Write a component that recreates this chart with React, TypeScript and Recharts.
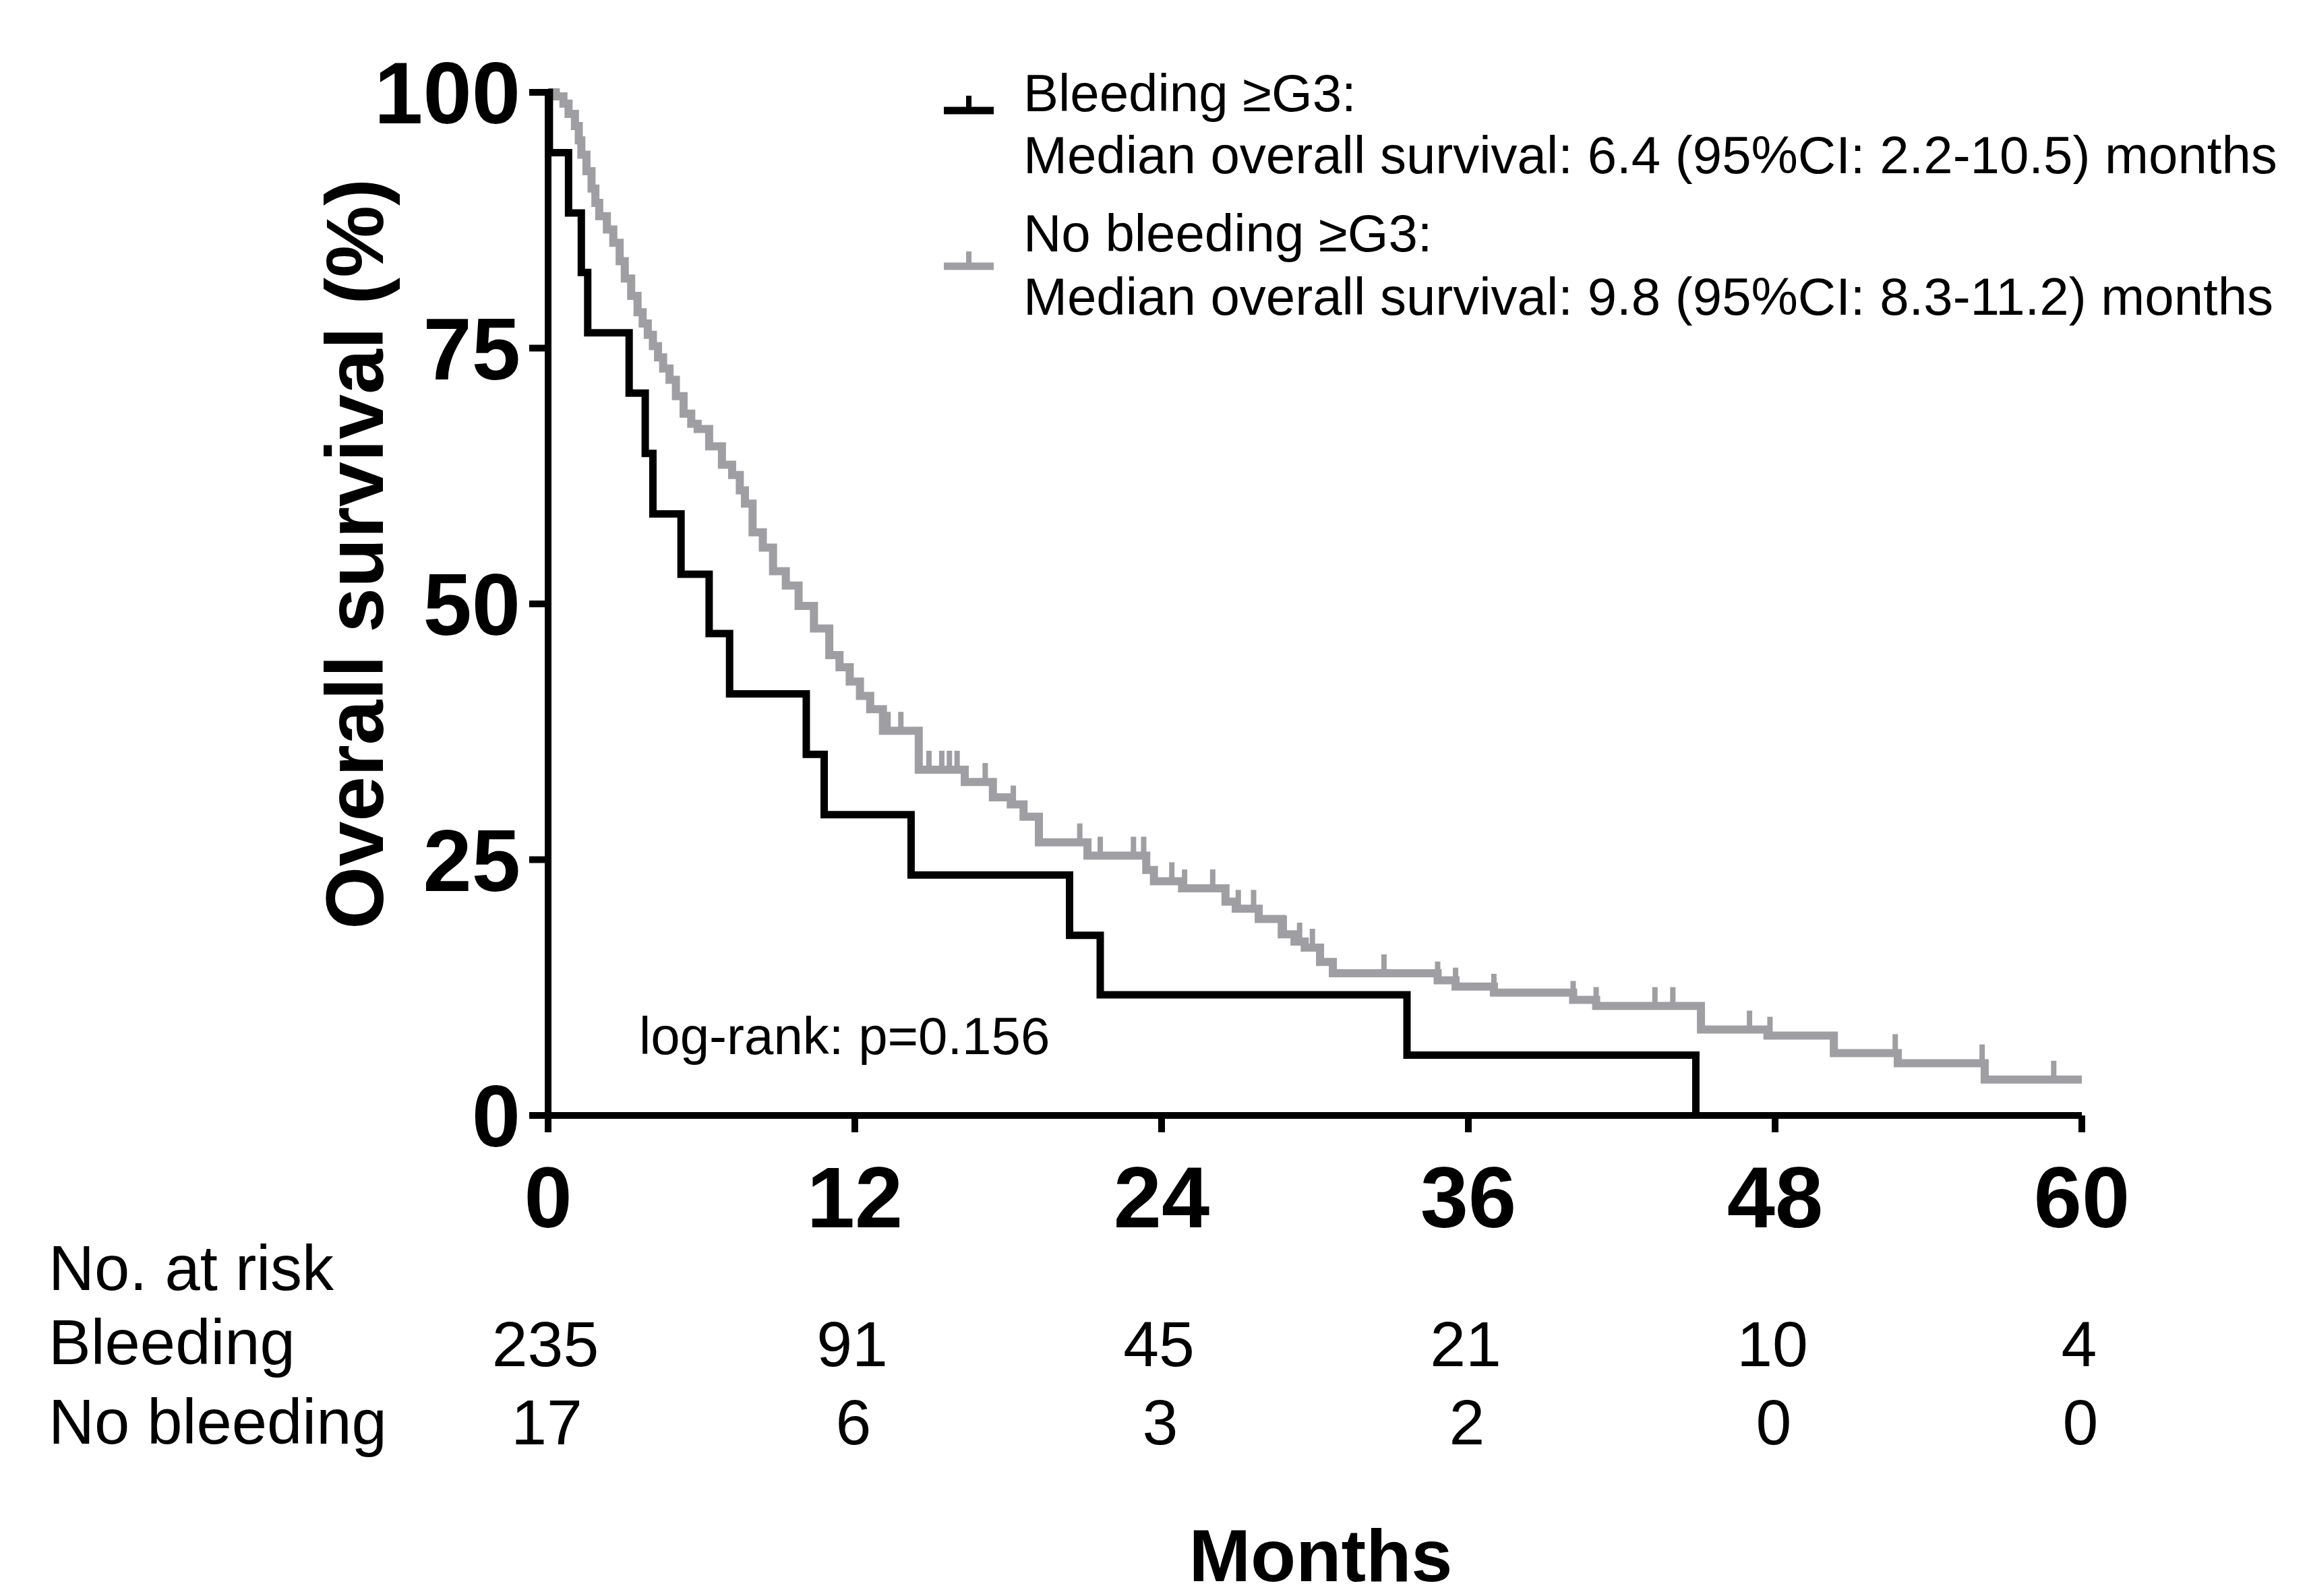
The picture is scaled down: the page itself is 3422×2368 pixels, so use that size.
import React from "react"
import {
    ComposedChart,
    Line,
    Scatter,
    XAxis,
    YAxis,
} from "recharts"

// Kaplan-Meier steps: time (months) -> survival (%)
const bleedTimes = [0, 0.05, 0.8, 1.3, 1.55, 3.17, 3.8, 4.1, 5.2, 6.3, 7.1, 10.1, 10.8, 14.2, 20.4, 21.6, 33.6, 44.9]
const bleedSurv = [100, 94.1, 88.2, 82.4, 76.5, 70.6, 64.7, 58.8, 52.9, 47.1, 41.2, 35.3, 29.4, 23.5, 17.6, 11.8, 5.9, 0]

const noBleedTimes = [
    0, 0.3, 0.6, 0.8, 1.05, 1.2, 1.3, 1.5, 1.7, 1.85,
    2.0, 2.3, 2.55, 2.8, 3.0, 3.25, 3.5, 3.7, 3.9, 4.1,
    4.3, 4.5, 4.75, 5.0, 5.3, 5.6, 5.85, 6.3, 6.8, 7.2,
    7.5, 7.7, 8.0, 8.4, 8.8, 9.3, 9.8, 10.4, 11.0, 11.4,
    11.8, 12.2, 12.6, 13.1, 14.5, 16.3, 17.4, 18.1, 18.6, 19.2,
    21.1, 23.4, 23.7, 24.8, 26.5, 26.9, 27.8, 28.7, 29.2, 29.6,
    30.2, 30.7, 34.8, 35.5, 37.0, 40.1, 41.0, 45.1, 47.7, 50.3,
    52.8, 56.2, 60,
]
const noBleedSurv = [
    100, 99.6, 98.9, 97.9, 96.7, 95.3, 93.9, 92.3, 90.6, 89.2,
    87.9, 86.6, 85.3, 83.5, 81.8, 80.1, 78.5, 77.4, 76.3, 75.2,
    74.1, 73.0, 71.9, 70.3, 68.6, 67.6, 67.1, 65.4, 63.6, 62.6,
    61.1, 59.8, 57.0, 55.5, 53.2, 51.8, 49.8, 47.6, 45.0, 43.8,
    42.4, 41.0, 39.7, 37.6, 33.8, 32.6, 31.1, 30.4, 29.2, 26.7,
    25.4, 24.0, 22.9, 22.2, 20.9, 20.2, 19.2, 17.7, 17.0, 16.4,
    15.0, 13.9, 13.2, 12.6, 12.0, 11.3, 10.7, 8.4, 7.8, 6.1,
    5.1, 3.5, 3.5,
]

// censored observations (months) on the grey curve
const noBleedCensor = [
    13.3, 13.8, 14.9, 15.4, 15.7, 16.0, 17.1, 18.2, 20.8, 21.6,
    22.9, 23.3, 24.4, 24.9, 26.0, 27.0, 27.6, 28.8, 29.4, 29.9,
    32.7, 34.8, 35.5, 37.0, 40.1, 41.0, 43.3, 44.0, 47.0, 47.8,
    50.3, 52.7, 56.1, 58.9,
]

const monthTicks = [0, 12, 24, 36, 48, 60]
const survTicks = [0, 25, 50, 75, 100]
const riskRow1 = [235, 91, 45, 21, 10, 4]
const riskRow2 = [17, 6, 3, 2, 0, 0]

const BLACK = "#000000"
const GREY = "#9f9fa3"
const FONT = "'Liberation Sans', Arial, sans-serif"

const bleedData = bleedTimes.map((t, i) => ({ t, s: bleedSurv[i] }))
const noBleedData = noBleedTimes.map((t, i) => ({ t, s: noBleedSurv[i] }))

function survAt(t: number) {
    let s = noBleedSurv[0]
    for (let i = 0; i < noBleedTimes.length; i++) {
        if (noBleedTimes[i] <= t) s = noBleedSurv[i]
    }
    return s
}

const censorData = noBleedCensor.map((t) => ({ t, s: survAt(t) }))

function CensorMark(props: any) {
    const { cx, cy } = props
    if (cx == null || cy == null) return null
    return (
        <line
            x1={cx}
            x2={cx}
            y1={cy}
            y2={cy - 28}
            stroke={GREY}
            strokeWidth={8}
        />
    )
}

function MonthTick(props: any) {
    const { x, y, payload } = props
    const i = monthTicks.indexOf(payload.value)
    return (
        <g fontFamily={FONT} textAnchor="middle" fill="#000">
            <text x={x} y={y + 139} fontSize={128} fontWeight="bold">
                {payload.value}
            </text>
            <text x={x - 4} y={y + 345} fontSize={95}>
                {riskRow1[i]}
            </text>
            <text x={x - 2} y={y + 461} fontSize={95}>
                {riskRow2[i]}
            </text>
        </g>
    )
}

function Txt({
    left,
    baseline,
    size,
    bold,
    center,
    children,
}: any) {
    return (
        <div
            style={{
                position: "absolute",
                left,
                top: baseline - 0.8465 * size,
                fontSize: size,
                lineHeight: 1,
                fontFamily: FONT,
                fontWeight: bold ? "bold" : "normal",
                whiteSpace: "nowrap",
                transform: center ? "translateX(-50%)" : undefined,
                color: "#000",
            }}
        >
            {children}
        </div>
    )
}

function LegendMark({ top, color }: any) {
    return (
        <svg
            width={80}
            height={40}
            style={{ position: "absolute", left: 1398, top: top - 30 }}
        >
            <line x1={2} x2={76} y1={30} y2={30} stroke={color} strokeWidth={11} />
            <line x1={39} x2={39} y1={8} y2={30} stroke={color} strokeWidth={8} />
        </svg>
    )
}

export default function App() {
    return (
        <div
            style={{
                position: "absolute",
                left: 0,
                top: 0,
                width: 3422,
                height: 2368,
                background: "#fff",
                overflow: "hidden",
            }}
        >
            <ComposedChart
                width={3422}
                height={2368}
                margin={{ top: 137, right: 334, left: 413, bottom: 113 }}
            >
                <XAxis
                    dataKey="t"
                    type="number"
                    domain={[0, 60]}
                    ticks={monthTicks}
                    allowDataOverflow
                    height={600}
                    tickSize={25}
                    axisLine={{ stroke: BLACK, strokeWidth: 10 }}
                    tickLine={{ stroke: BLACK, strokeWidth: 10 }}
                    tick={<MonthTick />}
                    interval={0}
                />
                <YAxis
                    type="number"
                    domain={[0, 100]}
                    ticks={survTicks}
                    width={400}
                    tickSize={28}
                    tickMargin={13}
                    axisLine={{ stroke: BLACK, strokeWidth: 10 }}
                    tickLine={{ stroke: BLACK, strokeWidth: 10 }}
                    tick={{
                        fontSize: 130,
                        fontWeight: "bold",
                        fill: "#000",
                        fontFamily: FONT,
                    }}
                    interval={0}
                />
                <Line
                    data={noBleedData}
                    dataKey="s"
                    type="stepAfter"
                    stroke={GREY}
                    strokeWidth={12}
                    dot={false}
                    activeDot={false}
                    isAnimationActive={false}
                />
                <Scatter
                    data={censorData}
                    dataKey="s"
                    shape={<CensorMark />}
                    isAnimationActive={false}
                />
                <Line
                    data={bleedData}
                    dataKey="s"
                    type="stepAfter"
                    stroke={BLACK}
                    strokeWidth={11}
                    dot={false}
                    activeDot={false}
                    isAnimationActive={false}
                />
            </ComposedChart>

            <div
                style={{
                    position: "absolute",
                    left: 526,
                    top: 822,
                    transform: "translate(-50%, -50%) rotate(-90deg)",
                    fontSize: 120,
                    lineHeight: 1,
                    fontWeight: "bold",
                    fontFamily: FONT,
                    whiteSpace: "nowrap",
                }}
            >
                Overall survival (%)
            </div>

            <LegendMark top={164} color={BLACK} />
            <LegendMark top={395} color={GREY} />
            <Txt left={1518} baseline={165} size={78}>Bleeding ≥G3:</Txt>
            <Txt left={1518} baseline={257} size={78}>
                Median overall survival: 6.4 (95%CI: 2.2-10.5) months
            </Txt>
            <Txt left={1518} baseline={373} size={78}>No bleeding ≥G3:</Txt>
            <Txt left={1518} baseline={467} size={78}>
                Median overall survival: 9.8 (95%CI: 8.3-11.2) months
            </Txt>

            <Txt left={948} baseline={1564} size={78}>log-rank: p=0.156</Txt>

            <Txt left={72} baseline={1915} size={94}>No. at risk</Txt>
            <Txt left={72} baseline={2025} size={94}>Bleeding</Txt>
            <Txt left={72} baseline={2143} size={94}>No bleeding</Txt>

            <Txt left={1959} baseline={2346} size={110} bold center>
                Months
            </Txt>
        </div>
    )
}
